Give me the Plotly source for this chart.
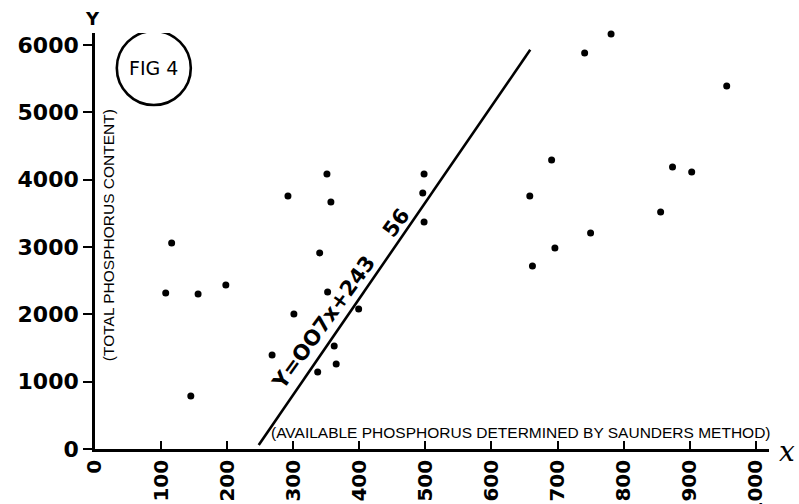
import plotly.graph_objects as go

# ---- data ----
available_p = [107, 116, 156, 198, 145, 292, 357, 496, 498, 340, 352, 301, 399, 268,
               362, 365, 337, 351, 498, 781, 741, 956, 691, 874, 903, 658, 856, 750,
               696, 662]
total_p = [2318, 3061, 2303, 2437, 788, 3759, 3670, 3804, 3373, 2912, 2333, 2006, 2080,
           1397, 1530, 1263, 1144, 4086, 4086, 6166, 5884, 5394, 4294, 4190, 4116, 3759,
           3521, 3210, 2987, 2719]

x_ticks = [0, 100, 200, 300, 400, 500, 600, 700, 800, 900, 1000]
x_tick_labels = ["0", "100", "200", "300", "400", "500", "600", "700", "800", "900", "1000"]
y_ticks = [0, 1000, 2000, 3000, 4000, 5000, 6000]
y_tick_labels = ["0", "1000", "2000", "3000", "4000", "5000", "6000"]

# regression line  x = 0.07*Y + 243.56 (drawn over the Y span of the figure)
line_slope = 0.07
line_intercept = 243.56
line_y = [60, 5930]
line_x = [line_slope * v + line_intercept for v in line_y]

equation_text = "Y=OO7x+243\u00a0\u00a0\u00a0\u00a056"
x_title = "(AVAILABLE PHOSPHORUS DETERMINED BY SAUNDERS METHOD)"
y_title = "(TOTAL PHOSPHORUS CONTENT)"

fig = go.Figure()
fig.add_trace(go.Scatter(x=line_x, y=line_y, mode="lines",
                         line=dict(color="black", width=2.6), hoverinfo="skip",
                         showlegend=False))
fig.add_trace(go.Scatter(x=available_p, y=total_p, mode="markers",
                         marker=dict(color="black", size=7), showlegend=False,
                         cliponaxis=False))

tick_font = dict(family="DejaVu Sans", size=22, color="black", weight="bold")

fig.update_xaxes(range=[0, 1020], tickvals=x_ticks, ticktext=x_tick_labels,
                 tickangle=-90, ticks="inside", ticklen=8, tickwidth=2,
                 tickcolor="black", showline=True, linecolor="black", linewidth=2.6,
                 showgrid=False, zeroline=False,
                 tickfont=dict(family="DejaVu Sans", size=20, color="black", weight="bold"),
                 automargin=False)
fig.update_yaxes(range=[0, 6180], tickvals=y_ticks, ticktext=y_tick_labels,
                 ticks="outside", ticklen=9, tickwidth=2, tickcolor="black",
                 showline=True, linecolor="black", linewidth=2.6, showgrid=False,
                 zeroline=False, tickfont=tick_font, automargin=False)

annotations = [
    dict(x=0.5, y=0, xref="paper", yref="paper", text=x_title, showarrow=False,
         xshift=89, yshift=17, font=dict(family="Liberation Sans", size=15.5, color="black"),
         xanchor="center", yanchor="middle"),
    dict(x=0, y=0.514, xref="paper", yref="paper", text=y_title, showarrow=False,
         textangle=-90, xshift=13, font=dict(family="Liberation Sans", size=15.5, color="black"),
         xanchor="center", yanchor="middle"),
    dict(x=372, y=2230, xref="x", yref="y", text=equation_text, showarrow=False,
         textangle=-54, font=dict(family="DejaVu Sans", size=21, color="black", weight="bold"),
         xanchor="center", yanchor="middle"),
    dict(x=0, y=1, xref="paper", yref="paper", text="<b>Y</b>", showarrow=False,
         xshift=-3, yshift=15, font=dict(family="DejaVu Sans", size=18, color="black"),
         xanchor="center", yanchor="middle"),
    dict(x=1, y=0, xref="paper", yref="paper", text="<i>x</i>", showarrow=False,
         xshift=18, yshift=-2, font=dict(family="DejaVu Serif", size=28, color="black"),
         xanchor="center", yanchor="middle"),
    dict(x=89, y=5659, xref="x", yref="y", text="FIG 4", showarrow=False,
         font=dict(family="DejaVu Sans", size=19, color="black"),
         xanchor="center", yanchor="middle"),
]

fig.add_shape(type="circle", xref="x", yref="y", xsizemode="pixel", ysizemode="pixel",
              xanchor=89, yanchor=5659, x0=-37, x1=37, y0=-37, y1=37,
              line=dict(color="black", width=2.6))

fig.update_layout(width=799, height=504, margin=dict(l=95, r=30, t=33, b=55),
                  plot_bgcolor="white", paper_bgcolor="white",
                  annotations=annotations, showlegend=False)

fig.write_html("out.html", config={"displayModeBar": False},
               post_script="document.body.style.margin='0';document.body.style.overflow='hidden';")
